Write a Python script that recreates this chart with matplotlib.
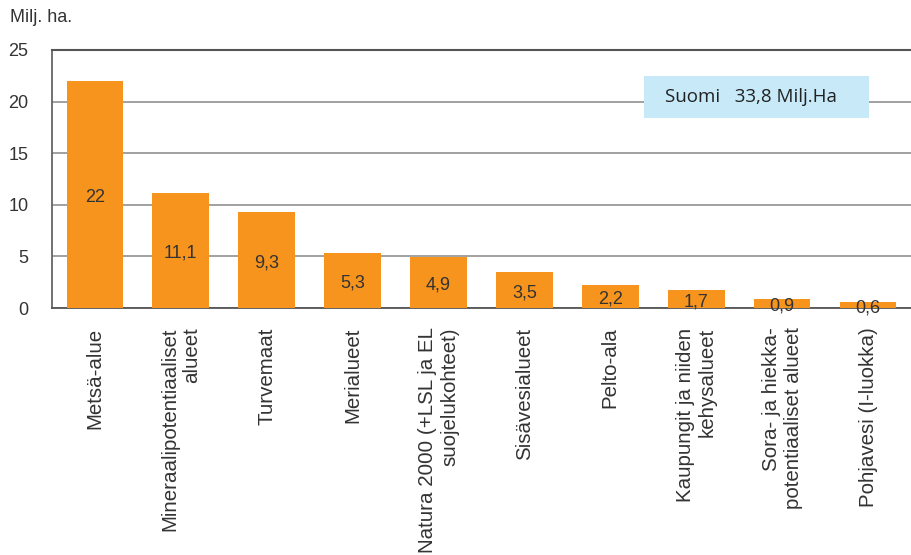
import matplotlib.pyplot as plt
import matplotlib.patches as mpatches
import numpy as np

plt.rcParams['font.family'] = ['Liberation Sans', 'DejaVu Sans']

categories = ['Metsä-alue', 'Mineraalipotentiaaliset\nalueet', 'Turvemaat', 'Merialueet',
              'Natura 2000 (+LSL ja EL\nsuojelukohteet)', 'Sisävesialueet', 'Pelto-ala',
              'Kaupungit ja niiden\nkehysalueet', 'Sora- ja hiekka-\npotentiaaliset alueet',
              'Pohjavesi (I-luokka)']
values = [22, 11.1, 9.3, 5.3, 4.9, 3.5, 2.2, 1.7, 0.9, 0.6]
value_labels = ['22', '11,1', '9,3', '5,3', '4,9', '3,5', '2,2', '1,7', '0,9', '0,6']
yticks = [0, 5, 10, 15, 20, 25]

fig = plt.figure(figsize=(9.11, 5.55), dpi=100)
ax = fig.add_axes([0.057, 0.445, 0.943, 0.465])

x = np.arange(len(values))
ax.bar(x, values, width=0.66, color='#F7941D', zorder=3)
for xi, v, lab in zip(x, values, value_labels):
    ax.text(xi, v / 2 - 0.25, lab, ha='center', va='center', fontsize=13,
            color='#333333', zorder=4)

ax.set_xlim(-0.5, len(values) - 0.5)
ax.set_ylim(0, 25)
ax.set_yticks(yticks)
ax.set_yticklabels([str(t) for t in yticks], fontsize=13, color='#333333')
ax.tick_params(axis='y', length=0, pad=17)
ax.tick_params(axis='x', length=0, pad=14)
ax.set_xticks(x)
ax.set_xticklabels(categories, rotation=90, fontsize=14.8, color='#333333',
                   va='top', ha='center', multialignment='right')

ax.grid(axis='y', color='#9a9a9a', linewidth=1.3, zorder=0)
ax.spines['right'].set_visible(False)
ax.spines['top'].set_color('#555555')
ax.spines['top'].set_linewidth(1.5)
ax.spines['left'].set_color('#666666')
ax.spines['left'].set_linewidth(1.3)
ax.spines['bottom'].set_color('#555555')
ax.spines['bottom'].set_linewidth(1.3)

fig.text(0.011, 0.968, 'Milj. ha.', fontsize=13, color='#333333', va='center')

# info box
ax.add_patch(mpatches.Rectangle((0.689, 0.736), 0.262, 0.163, transform=ax.transAxes,
                                facecolor='#C7E9F8', edgecolor='none', zorder=5))
ax.text(0.814, 0.816, 'Suomi   33,8 Milj.Ha', transform=ax.transAxes, ha='center',
        va='center', fontsize=13.5, color='#222222', family=['Open Sans', 'DejaVu Sans'],
        zorder=6)

fig.savefig('out.png', dpi=100)
